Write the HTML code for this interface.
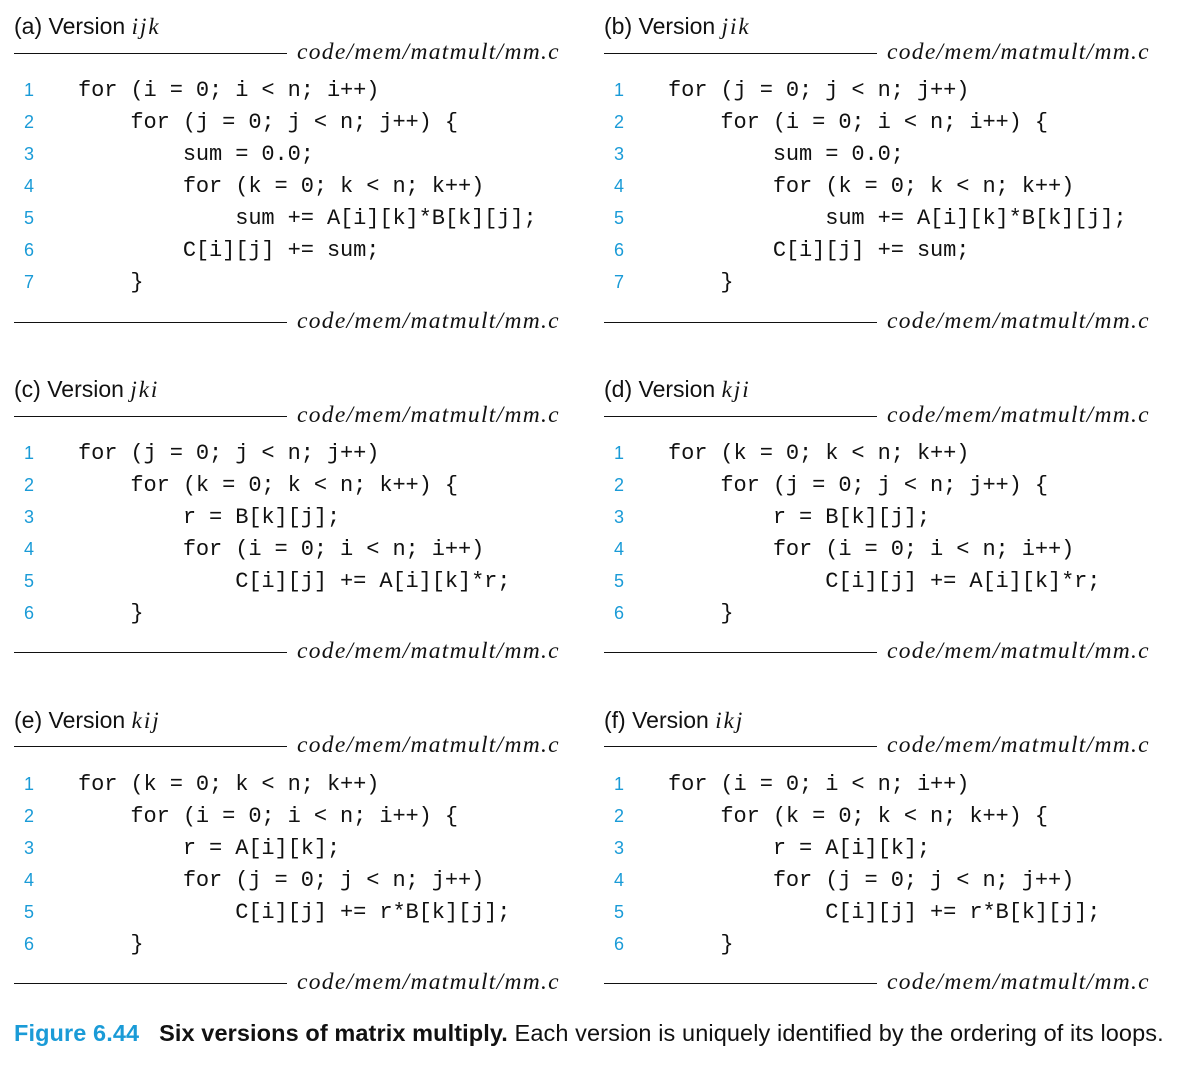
<!DOCTYPE html>
<html><head><meta charset="utf-8"><style>
body{margin:0;width:1177px;height:1065px;background:#fff;position:relative;overflow:hidden;color:#111}
.p{position:absolute;width:545px}
.t{position:absolute;left:0;top:-14px;font:23px "Liberation Sans",sans-serif;white-space:nowrap}
.t i{font-family:"Liberation Serif",serif;letter-spacing:2px}
.r{position:absolute;left:0;width:273px;height:0;border-top:1.3px solid #111}
.f{position:absolute;left:283px;font:italic 23.5px "Liberation Serif",serif;white-space:nowrap;letter-spacing:1.3px}
.c{position:absolute;left:0;top:48px;font:22px/32px "Liberation Mono",monospace;white-space:pre;letter-spacing:-0.1px}
.n{display:inline-block;width:64px;padding-left:10px;box-sizing:border-box;font:18px "Liberation Sans",sans-serif;color:#1a9bd7}
.cap{position:absolute;left:14px;top:1020px;font:23.5px "Liberation Sans",sans-serif;white-space:nowrap;letter-spacing:0.1px}
</style></head><body>

<div class="p" style="left:14px;top:27px">
<div class="t">(a) Version <i>ijk</i></div>
<div class="r" style="top:26px"></div><div class="f" style="top:12px">code/mem/matmult/mm.c</div>
<div class="c"><span class="n">1</span>for (i = 0; i &lt; n; i++)
<span class="n">2</span>    for (j = 0; j &lt; n; j++) {
<span class="n">3</span>        sum = 0.0;
<span class="n">4</span>        for (k = 0; k &lt; n; k++)
<span class="n">5</span>            sum += A[i][k]*B[k][j];
<span class="n">6</span>        C[i][j] += sum;
<span class="n">7</span>    }</div>
<div class="r" style="top:295px"></div><div class="f" style="top:281px">code/mem/matmult/mm.c</div>
</div>

<div class="p" style="left:604px;top:27px">
<div class="t">(b) Version <i>jik</i></div>
<div class="r" style="top:26px"></div><div class="f" style="top:12px">code/mem/matmult/mm.c</div>
<div class="c"><span class="n">1</span>for (j = 0; j &lt; n; j++)
<span class="n">2</span>    for (i = 0; i &lt; n; i++) {
<span class="n">3</span>        sum = 0.0;
<span class="n">4</span>        for (k = 0; k &lt; n; k++)
<span class="n">5</span>            sum += A[i][k]*B[k][j];
<span class="n">6</span>        C[i][j] += sum;
<span class="n">7</span>    }</div>
<div class="r" style="top:295px"></div><div class="f" style="top:281px">code/mem/matmult/mm.c</div>
</div>

<div class="p" style="left:14px;top:390px">
<div class="t">(c) Version <i>jki</i></div>
<div class="r" style="top:26px"></div><div class="f" style="top:12px">code/mem/matmult/mm.c</div>
<div class="c"><span class="n">1</span>for (j = 0; j &lt; n; j++)
<span class="n">2</span>    for (k = 0; k &lt; n; k++) {
<span class="n">3</span>        r = B[k][j];
<span class="n">4</span>        for (i = 0; i &lt; n; i++)
<span class="n">5</span>            C[i][j] += A[i][k]*r;
<span class="n">6</span>    }</div>
<div class="r" style="top:262px"></div><div class="f" style="top:248px">code/mem/matmult/mm.c</div>
</div>

<div class="p" style="left:604px;top:390px">
<div class="t">(d) Version <i>kji</i></div>
<div class="r" style="top:26px"></div><div class="f" style="top:12px">code/mem/matmult/mm.c</div>
<div class="c"><span class="n">1</span>for (k = 0; k &lt; n; k++)
<span class="n">2</span>    for (j = 0; j &lt; n; j++) {
<span class="n">3</span>        r = B[k][j];
<span class="n">4</span>        for (i = 0; i &lt; n; i++)
<span class="n">5</span>            C[i][j] += A[i][k]*r;
<span class="n">6</span>    }</div>
<div class="r" style="top:262px"></div><div class="f" style="top:248px">code/mem/matmult/mm.c</div>
</div>

<div class="p" style="left:14px;top:721px">
<div class="t">(e) Version <i>kij</i></div>
<div class="r" style="top:25px"></div><div class="f" style="top:11px">code/mem/matmult/mm.c</div>
<div class="c"><span class="n">1</span>for (k = 0; k &lt; n; k++)
<span class="n">2</span>    for (i = 0; i &lt; n; i++) {
<span class="n">3</span>        r = A[i][k];
<span class="n">4</span>        for (j = 0; j &lt; n; j++)
<span class="n">5</span>            C[i][j] += r*B[k][j];
<span class="n">6</span>    }</div>
<div class="r" style="top:262px"></div><div class="f" style="top:248px">code/mem/matmult/mm.c</div>
</div>

<div class="p" style="left:604px;top:721px">
<div class="t">(f) Version <i>ikj</i></div>
<div class="r" style="top:25px"></div><div class="f" style="top:11px">code/mem/matmult/mm.c</div>
<div class="c"><span class="n">1</span>for (i = 0; i &lt; n; i++)
<span class="n">2</span>    for (k = 0; k &lt; n; k++) {
<span class="n">3</span>        r = A[i][k];
<span class="n">4</span>        for (j = 0; j &lt; n; j++)
<span class="n">5</span>            C[i][j] += r*B[k][j];
<span class="n">6</span>    }</div>
<div class="r" style="top:262px"></div><div class="f" style="top:248px">code/mem/matmult/mm.c</div>
</div>

<div class="cap"><b style="color:#1a9bd7">Figure 6.44</b>&nbsp;&nbsp;&nbsp;<b>Six versions of matrix multiply.</b> Each version is uniquely identified by the ordering of its loops.</div>
</body></html>
